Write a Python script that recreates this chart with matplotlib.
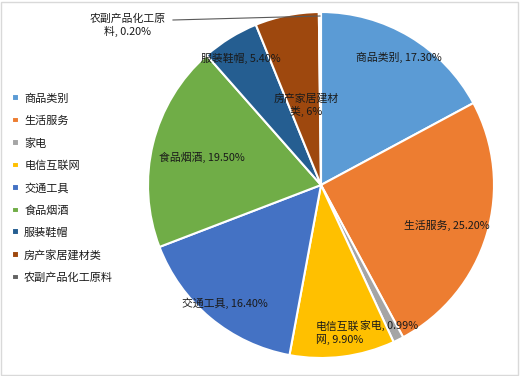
import matplotlib
matplotlib.use("Agg")
import matplotlib.pyplot as plt
from matplotlib.patches import Rectangle
from matplotlib.lines import Line2D

plt.rcParams['font.family'] = ['Noto Sans CJK SC', 'DejaVu Sans']

categories = ['商品类别', '生活服务', '家电', '电信互联网', '交通工具', '食品烟酒', '服装鞋帽', '房产家居建材类', '农副产品化工原料']
values = [17.30, 25.20, 0.99, 9.90, 16.40, 19.50, 5.40, 6.0, 0.20]
value_labels = ['17.30%', '25.20%', '0.99%', '9.90%', '16.40%', '19.50%', '5.40%', '6%', '0.20%']
colors = ['#5B9BD5', '#ED7D31', '#A5A5A5', '#FFC000', '#4472C4', '#70AD47', '#255E91', '#9E480E', '#636363']

W, H = 520, 376
fig = plt.figure(figsize=(W / 100, H / 100), dpi=100)
fig.patch.set_facecolor('white')

def fx(x):
    return x / W

def fy(y):
    return 1 - y / H

cx, cy, R = 321, 185, 173
ax = fig.add_axes([fx(cx - R), fy(cy + R), 2 * R / W, 2 * R / H])
wedges, _ = ax.pie(values, colors=colors, startangle=90, counterclock=False,
                   wedgeprops=dict(edgecolor='white', linewidth=1.5))
ax.set_aspect('auto')
ax.set_xlim(-1, 1)
ax.set_ylim(-1, 1)

label_texts = ['商品类别, ' + value_labels[0],
               '生活服务, ' + value_labels[1],
               '家电, ' + value_labels[2],
               '电信互联\n网, ' + value_labels[3],
               '交通工具, ' + value_labels[4],
               '食品烟酒, ' + value_labels[5],
               '服装鞋帽, ' + value_labels[6],
               '房产家居建材\n类, ' + value_labels[7],
               '农副产品化工原\n料, ' + value_labels[8]]
label_pos = [(399, 57, 'center'), (447, 225, 'center'), (389, 325, 'center'),
             (316, 333, 'left'), (225, 303, 'center'), (202, 157, 'center'),
             (241, 58, 'center'), (306, 105, 'center'), (128, 25, 'center')]
txtcol = '#1a1a1a'
for t, (x, y, ha) in zip(label_texts, label_pos):
    fig.text(fx(x), fy(y), t, ha=ha, va='center', fontsize=7.8, color=txtcol,
             linespacing=1.2)

fig.add_artist(Line2D([fx(173), fx(320)], [fy(20), fy(16)], color='#595959', lw=0.8))

leg = fig.legend(wedges, categories, loc='upper left', bbox_to_anchor=(fx(8), fy(89)),
                 frameon=False, fontsize=8, handlelength=0.55, handleheight=0.55,
                 handletextpad=0.5, labelspacing=1.07, borderaxespad=0)
for txt in leg.get_texts():
    txt.set_color(txtcol)

fig.add_artist(Rectangle((fx(1), fy(375)), fx(517), 373 / H, fill=False,
                         edgecolor='#D9D9D9', lw=1, transform=fig.transFigure))

fig.savefig('out.png', dpi=100)
